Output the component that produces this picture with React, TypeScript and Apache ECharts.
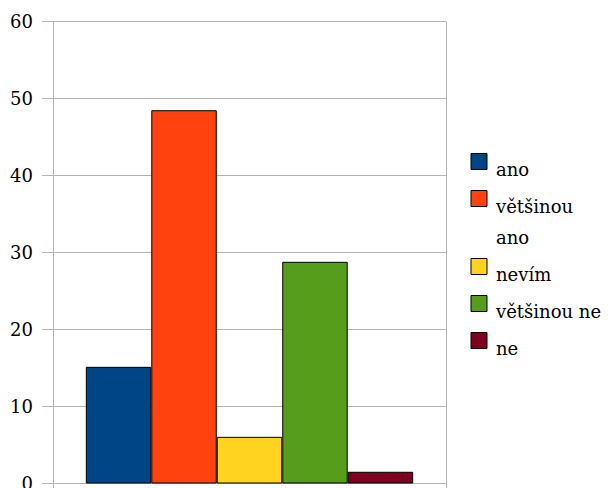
import React, { useEffect, useRef } from "react";
import * as echarts from "echarts";

const seriesNames = ["ano", "většinou ano", "nevím", "většinou ne", "ne"];
const seriesValues = [15.15, 48.48, 6.06, 28.79, 1.52];
const seriesColors = ["#004586", "#ff420e", "#ffd320", "#579d1c", "#7e0021"];
const categories = [""];
const yTicks = { min: 0, max: 60, interval: 10 };

const FONT = "DejaVu Serif";
const GRID = "#b3b3b3";

// icon top positions of the legend entries (layout only)
const legendIconTops = [153, 190, 258, 295, 332];

function buildOption() {
  const legends = seriesNames.map((name, i) => {
    const parts = name.split(" ");
    const twoLine = name === "většinou ano";
    return {
      data: [name],
      orient: "vertical",
      left: 470.5,
      top: legendIconTops[i],
      padding: 0,
      itemWidth: 16,
      itemHeight: 16,
      itemGap: 0,
      icon: "rect",
      selectedMode: false,
      itemStyle: { borderColor: "#000", borderWidth: 1 },
      formatter: (n: string) =>
        twoLine ? `{a|${parts[0]}}\n{b|${parts.slice(1).join(" ")}}` : `{s|${n}}`,
      textStyle: {
        fontFamily: FONT,
        fontSize: 18,
        color: "#000",
        rich: {
          s: { fontFamily: FONT, fontSize: 18, color: "#000", height: 20, padding: [16, 0, 0, 4] },
          a: { fontFamily: FONT, fontSize: 18, color: "#000", height: 41, padding: [37, 0, 0, 4] },
          b: { fontFamily: FONT, fontSize: 18, color: "#000", height: 21, padding: [0, 0, 0, 4] },
        },
      },
    };
  });

  return {
    animation: false,
    backgroundColor: "#fff",
    textStyle: { fontFamily: FONT },
    grid: {
      left: 53,
      right: 166,
      top: 21.5,
      bottom: 4.5,
      containLabel: false,
      outerBoundsMode: "none",
    },
    legend: legends,
    xAxis: {
      type: "category",
      data: categories,
      axisLine: { show: true, lineStyle: { color: GRID, width: 1 } },
      axisTick: { show: true, length: 6, lineStyle: { color: GRID } },
      axisLabel: { show: false },
      splitLine: { show: true, lineStyle: { color: GRID } },
    },
    yAxis: {
      type: "value",
      min: yTicks.min,
      max: yTicks.max,
      interval: yTicks.interval,
      axisLine: { show: true, lineStyle: { color: GRID, width: 1 } },
      axisTick: { show: true, inside: false, length: 11, lineStyle: { color: GRID } },
      axisLabel: { margin: 20, fontFamily: FONT, fontSize: 18, color: "#000" },
      splitLine: { show: true, lineStyle: { color: GRID } },
    },
    series: seriesNames.map((name, i) => ({
      name,
      type: "bar",
      data: [seriesValues[i]],
      barGap: "0%",
      barCategoryGap: "16.7%",
      itemStyle: { color: seriesColors[i], borderColor: "#000", borderWidth: 1 },
    })),
  };
}

export default function App() {
  const ref = useRef<HTMLDivElement>(null);
  useEffect(() => {
    if (!ref.current) return;
    let disposed = false;
    const chart = echarts.init(ref.current, null, { renderer: "svg" });
    chart.setOption(buildOption() as any);
    const fonts = (document as any).fonts;
    if (fonts && fonts.load) {
      fonts
        .load(`18px "${FONT}"`)
        .then(() => {
          if (!disposed) chart.setOption(buildOption() as any, true);
        })
        .catch(() => {});
    }
    return () => {
      disposed = true;
      chart.dispose();
    };
  }, []);
  return (
    <div
      ref={ref}
      style={{ position: "fixed", left: 0, top: 0, width: 612, height: 488, background: "#fff" }}
    />
  );
}
